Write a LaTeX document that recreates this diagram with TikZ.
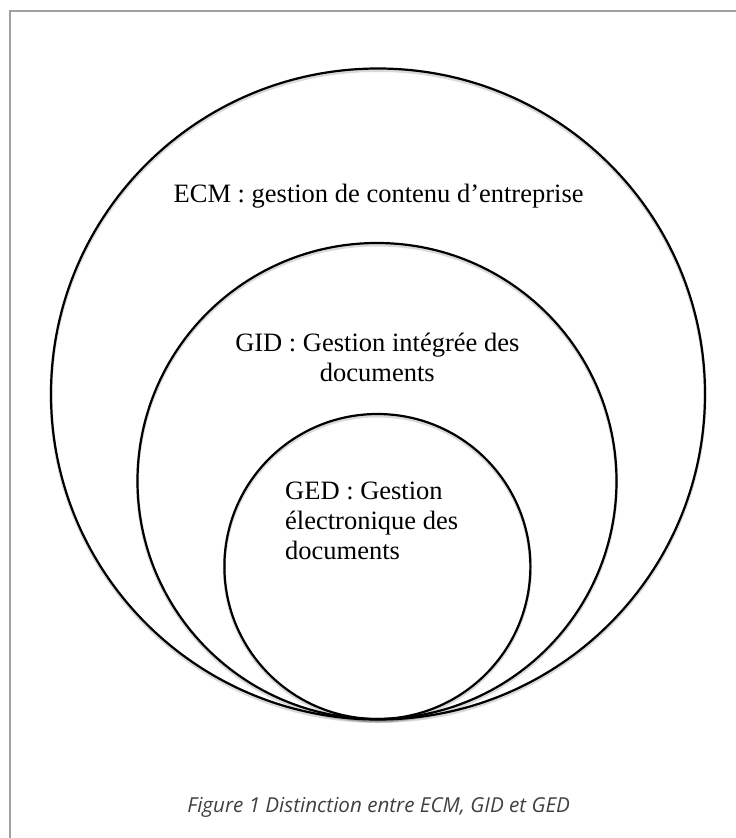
\documentclass[tikz,border=0pt]{standalone}
\usepackage{fontspec}
\setmainfont{Liberation Serif}
\newfontfamily\capfont{Open Sans}
\usetikzlibrary{shapes.geometric}
\definecolor{framegray}{HTML}{A0A0A0}
\definecolor{captiongray}{HTML}{404040}
\tikzset{
  ring/.style={ellipse, draw=black, line width=2.2pt, inner sep=0pt, outer sep=0pt},
  ringshadow/.style={draw=black, line width=3pt, opacity=0.15},
  label/.style={font=\fontsize{26.5}{30}\selectfont, inner sep=0pt, text=black},
  caption/.style={font=\capfont\itshape\fontsize{20.6}{24}\selectfont, text=captiongray, inner sep=0pt},
  framel/.style={draw=framegray, line width=1.6pt}
}
\begin{document}
\begin{tikzpicture}[x=1pt,y=-1pt]
\useasboundingbox (0,0) rectangle (736,838);
% frame (top and left edges only visible)
\coordinate (fbl) at (10,840);
\coordinate (ftl) at (10,11);
\coordinate (ftr) at (740,11);
\draw[framel] (fbl) -- (ftl) -- (ftr);
% shadows
\draw[ringshadow] (378,396) ellipse [x radius=327pt, y radius=325.5pt];
\draw[ringshadow] (377,483) ellipse [x radius=239.5pt, y radius=238pt];
\draw[ringshadow] (377.4,568.5) ellipse [x radius=153pt, y radius=152.5pt];
% rings
\node[ring, minimum width=654pt, minimum height=651pt] (ecm) at (378,394) {};
\node[ring, minimum width=479pt, minimum height=476pt] (gid) at (377,481) {};
\node[ring, minimum width=306pt, minimum height=305pt] (ged) at (377.4,566.5) {};
% labels
\node[label, anchor=base] (ecmtext) at (378.6,202.3) {ECM : gestion de contenu d’entreprise};
\node[label, anchor=base, align=center] (gidtext) at (377.3,381.7) {GID : Gestion intégrée des\\documents};
\node[label, anchor=base west, align=left] (gedtext) at (285,559.3) {GED : Gestion\\électronique des\\documents};
% caption
\node[caption, anchor=base] (cap) at (378.7,812.7) {Figure 1 Distinction entre ECM, GID et GED};
\end{tikzpicture}
\end{document}
